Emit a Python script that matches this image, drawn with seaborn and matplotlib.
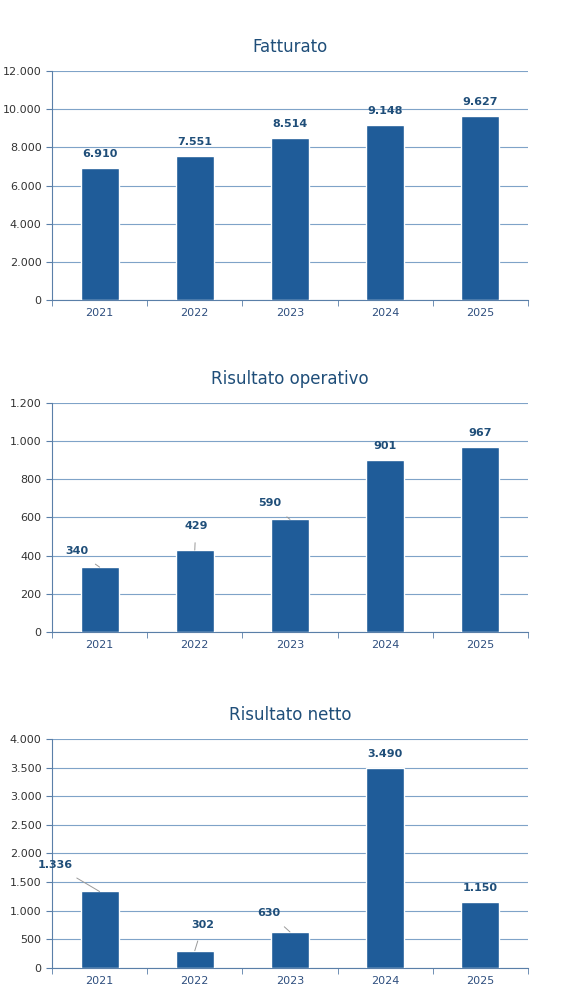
import matplotlib
matplotlib.use("Agg")
import matplotlib.pyplot as plt
import seaborn as sns
import pandas as pd
from matplotlib.ticker import FuncFormatter, FixedLocator

anni = ["2021", "2022", "2023", "2024", "2025"]
fatturato = [6910, 7551, 8514, 9148, 9627]
risultato_operativo = [340, 429, 590, 901, 967]
risultato_netto = [1336, 302, 630, 3490, 1150]

titoli = ["Fatturato", "Risultato operativo", "Risultato netto"]
ylims = [(12000, 2000), (1200, 200), (4000, 500)]
# label offsets in pixels (dx, dy) and whether a leader line is drawn
offsets = [
    [(0, 14, False)] * 5,
    [(-23, 16, True), (1, 24, True), (-20, 16, True), (0, 14, False), (0, 14, False)],
    [(-44, 26, True), (8, 26, True), (-21, 19, True), (0, 14, False), (0, 14, False)],
]

sns.set_style("white")
plt.rcParams["font.family"] = ["DejaVu Sans"]
blu = "#1F5C99"
testo = "#1F4E79"

fig = plt.figure(figsize=(5.79, 10.06), dpi=100)
bottoms = [0.7018, 0.3718, 0.0378]
serie = [fatturato, risultato_operativo, risultato_netto]

def it_fmt(v, pos):
    return f"{int(v):,}".replace(",", ".")

for i in range(3):
    ax = fig.add_axes([0.0898, bottoms[i], 0.822, 0.2276])
    df = pd.DataFrame({"anno": anni, "valore": serie[i]})
    sns.barplot(data=df, x="anno", y="valore", color=blu, width=0.4, ax=ax,
                saturation=1, zorder=3)
    top, step = ylims[i]
    ax.set_ylim(0, top)
    ax.set_xlim(-0.5, 4.5)
    ax.yaxis.set_major_locator(FixedLocator(list(range(0, top + 1, step))))
    ax.yaxis.set_major_formatter(FuncFormatter(it_fmt))
    ax.grid(axis="y", color="#7FA3C8", linewidth=0.8, zorder=0)
    ax.set_axisbelow(True)
    for s in ["top", "right"]:
        ax.spines[s].set_visible(False)
    ax.spines["left"].set_color("#5A7FA8")
    ax.spines["bottom"].set_color("#5A7FA8")
    ax.set_xlabel("")
    ax.set_ylabel("")
    ax.set_title(titoli[i], fontsize=12, color=testo, pad=14)
    ax.tick_params(axis="x", length=0, labelsize=8, labelcolor="#2F4F7F", pad=6)
    ax.tick_params(axis="y", length=4, labelsize=8, labelcolor="#333333", color="#5A7FA8", left=True)
    ax.set_xticks([k + 0.5 for k in range(-1, 5)], minor=True)
    ax.tick_params(axis="x", which="minor", length=4, color="#5A7FA8", bottom=True)
    for k, v in enumerate(serie[i]):
        dx, dy, line = offsets[i][k]
        ax.annotate(it_fmt(v, None), xy=(k, v), xytext=(dx, dy),
                    textcoords="offset pixels", ha="center", va="center",
                    fontsize=8, fontweight="bold", color=testo,
                    arrowprops=dict(arrowstyle="-", color="#999999", lw=0.7,
                                    shrinkA=6, shrinkB=0) if line else None,
                    zorder=5)

fig.savefig("out.png", dpi=100)
